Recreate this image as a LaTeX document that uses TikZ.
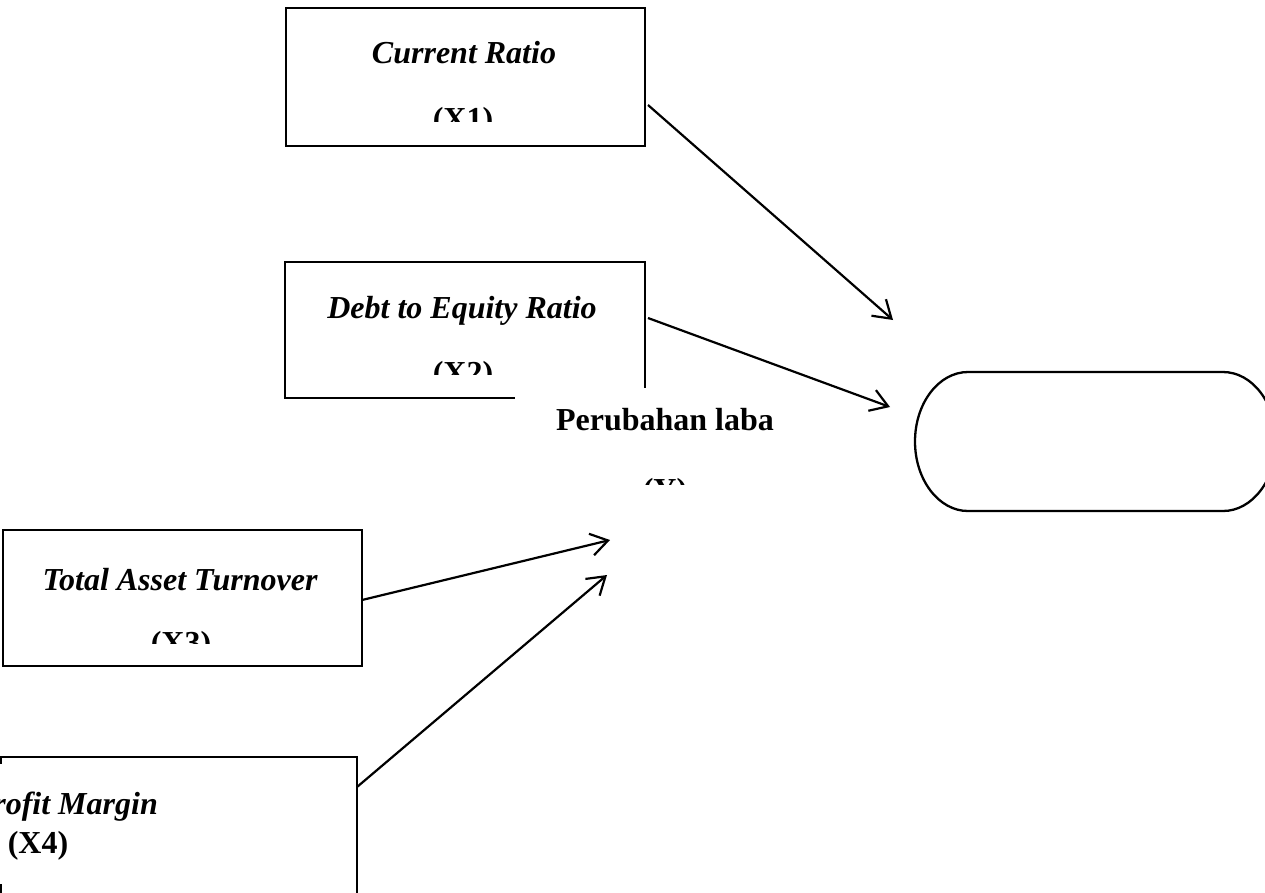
\documentclass[tikz,border=0pt]{standalone}
\usepackage{fontspec}
\setmainfont{Liberation Serif}
\usetikzlibrary{arrows.meta}
\begin{document}
\begin{tikzpicture}[x=1pt,y=-1pt,
  box/.style={draw,line width=2.3pt,inner sep=0pt},
  lbl/.style={inner sep=0pt,anchor=base,font=\fontsize{32}{38}\selectfont\bfseries},
  ilbl/.style={inner sep=0pt,anchor=base,font=\fontsize{32}{38}\selectfont\bfseries\itshape},
  arr/.style={line width=2.2pt,-{Straight Barb[length=17pt,width=22pt,line width=2.2pt]}},
  cover/.style={fill=white,draw=none,inner sep=0pt}]
\useasboundingbox (0,0) rectangle (1265,892);
\clip (0,0) rectangle (1265,892);
% boxes
\node[box,minimum width=359pt,minimum height=138pt] (x1) at (465.5,77) {};
\node[box,minimum width=360pt,minimum height=136pt] (x2) at (465,330) {};
\node[box,minimum width=359pt,minimum height=136pt] (x3) at (182.5,598) {};
\node[box,minimum width=356pt,minimum height=140pt] (x4) at (179,827) {};
% terminator
\draw[line width=2.3pt] (968,372) -- (1223,372)
  arc[start angle=90,end angle=-90,x radius=53pt,y radius=69.5pt] -- (968,511)
  arc[start angle=-90,end angle=-270,x radius=53pt,y radius=69.5pt] -- cycle;
% text boxes (white)
\node[cover,minimum width=300pt,minimum height=98pt] (ybox) at (665,437) {};
\node[cover,minimum width=310pt,minimum height=120pt] (x4box) at (145,824) {};
% texts
\begin{scope}
\clip (286,0) rectangle (645,121);
\node[ilbl] (t1) at (464,63) {Current Ratio};
\node[lbl] (t1b) at (463,129) {(X1)};
\end{scope}
\begin{scope}
\clip (286,262) rectangle (645,374);
\node[ilbl] (t2) at (462,318) {Debt to Equity Ratio};
\node[lbl] (t2b) at (463,383) {(X2)};
\end{scope}
\begin{scope}
\clip (515,388) rectangle (815,484);
\node[lbl] (ty) at (665,430) {Perubahan laba};
\node[lbl] (tyb) at (665,500) {(Y)};
\end{scope}
\begin{scope}
\clip (3,530) rectangle (362,643);
\node[ilbl] (t3) at (180,590) {Total Asset Turnover};
\node[lbl] (t3b) at (181,653) {(X3)};
\end{scope}
\node[ilbl,anchor=base east] (t4) at (158,814) {Net Profit Margin};
\node[lbl] (t4b) at (38,853) {(X4)};
% arrows
\coordinate (a1s) at (648,105); \coordinate (a1e) at (893,320);
\coordinate (a2s) at (648,318); \coordinate (a2e) at (890,407);
\coordinate (a3s) at (362,600); \coordinate (a3e) at (610,540);
\coordinate (a4s) at (357,787); \coordinate (a4e) at (607,575);
\draw[arr] (a1s) -- (a1e);
\draw[arr] (a2s) -- (a2e);
\draw[arr] (a3s) -- (a3e);
\draw[arr] (a4s) -- (a4e);
\end{tikzpicture}
\end{document}
